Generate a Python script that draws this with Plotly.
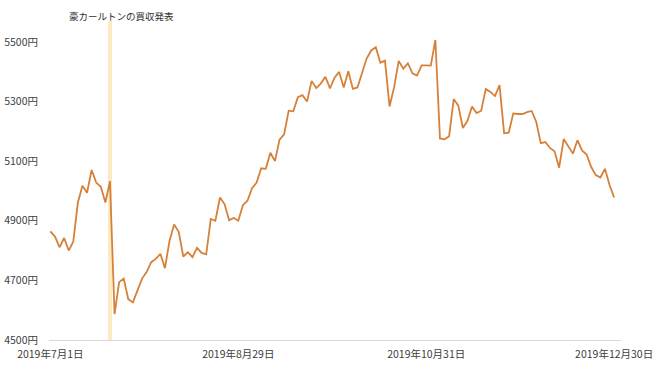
import pandas as pd
import plotly.graph_objects as go

# Trading days (TSE), Jul 1 - Dec 30, 2019
holidays = ["2019-07-15", "2019-08-12", "2019-09-16", "2019-09-23",
            "2019-10-14", "2019-10-22", "2019-11-04"]
days = [d for d in pd.bdate_range("2019-07-01", "2019-12-30")
        if d.strftime("%Y-%m-%d") not in holidays]
dates = [f"{d.year}年{d.month}月{d.day}日" for d in days]

prices = [
    4864, 4847, 4811, 4842, 4800, 4830, 4961, 5017, 4994, 5070,
    5028, 5014, 4961, 5033, 4587, 4694, 4706, 4637, 4626, 4669,
    4706, 4728, 4761, 4772, 4789, 4741, 4833, 4887, 4863, 4780,
    4794, 4778, 4809, 4792, 4787, 4906, 4900, 4978, 4956, 4902,
    4909, 4900, 4952, 4967, 5009, 5028, 5076, 5074, 5128, 5100,
    5172, 5190, 5269, 5267, 5314, 5321, 5300, 5369, 5345, 5360,
    5383, 5344, 5380, 5399, 5347, 5401, 5342, 5347, 5394, 5444,
    5471, 5482, 5430, 5437, 5283, 5348, 5436, 5410, 5428, 5394,
    5387, 5421, 5421, 5420, 5506, 5176, 5173, 5183, 5308, 5286,
    5211, 5235, 5283, 5261, 5269, 5342, 5332, 5318, 5355, 5193,
    5195, 5260, 5258, 5258, 5264, 5268, 5232, 5160, 5164, 5144,
    5133, 5078, 5174, 5150, 5125, 5170, 5136, 5122, 5080, 5053,
    5045, 5074, 5020, 4978,
]
assert len(dates) == len(prices) == 124

event_date = ["2019年7月19日"]
event_top = [5570]
event_label = "豪カールトンの買収発表"

x_tick_labels = ["2019年7月1日", "2019年8月29日", "2019年10月31日", "2019年12月30日"]
y_tick_values = [4500, 4700, 4900, 5100, 5300, 5500]
y_tick_labels = [f"{v}円" for v in y_tick_values]

font_family = "Noto Sans CJK JP"
text_color = "#404040"

fig = go.Figure()
fig.add_trace(go.Scatter(
    x=dates, y=prices, mode="lines",
    line=dict(color="#D5813A", width=1.8),
    showlegend=False,
))
fig.add_trace(go.Bar(
    x=event_date, y=[event_top[0] - 4500], base=4500,
    marker=dict(color="#FCEBC2", line=dict(width=0)),
    width=0.8, showlegend=False, hoverinfo="skip",
))
# draw band beneath the line
fig.data = (fig.data[1], fig.data[0])

fig.add_annotation(
    x=15.5, y=1.0, xref="x", yref="paper",
    text=event_label, showarrow=False,
    font=dict(family=font_family, size=9.5, color="#303030"),
    xanchor="center", yanchor="middle", yshift=-4,
)

fig.update_layout(
    width=660, height=371,
    margin=dict(l=49, r=39, t=12, b=31),
    paper_bgcolor="white", plot_bgcolor="white",
    font=dict(family=font_family, size=10.5, color=text_color),
    xaxis=dict(
        type="category",
        categoryorder="array",
        categoryarray=dates,
        range=[-0.3, 124.5],
        tickmode="array",
        tickvals=x_tick_labels,
        ticktext=x_tick_labels,
        showgrid=False,
        showline=True, linecolor="#D9D9D9", linewidth=1,
        ticks="", tickangle=0,
        ticklabelstandoff=4,
        automargin=False,
        tickfont=dict(size=10.5, color=text_color),
    ),
    yaxis=dict(
        range=[4500, 5600],
        tickmode="array",
        tickvals=y_tick_values,
        ticktext=y_tick_labels,
        showgrid=False, zeroline=False, showline=False,
        ticks="",
        ticklabelstandoff=10,
        automargin=False,
        tickfont=dict(size=10.5, color=text_color),
    ),
    bargap=0,
)

fig.write_html("out.html")
